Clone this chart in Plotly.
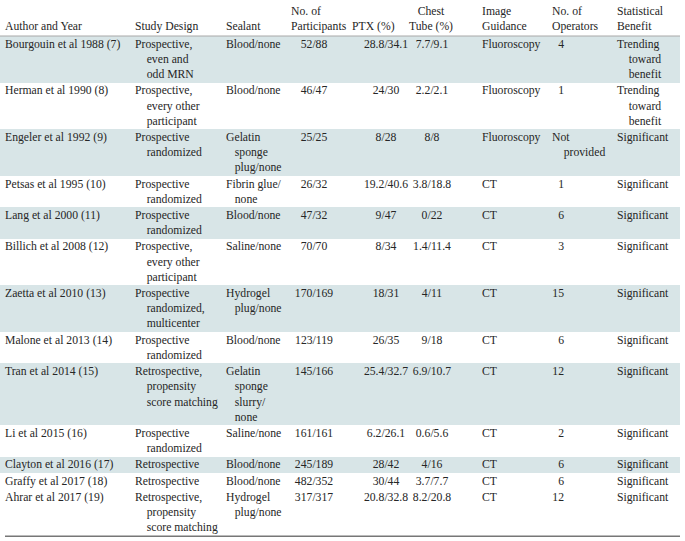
import plotly.graph_objects as go

# ---------------- data ----------------
headers = ["Author and Year", "Study Design", "Sealant", "No. of\nParticipants", "PTX (%)",
           "Chest\nTube (%)", "Image\nGuidance", "No. of\nOperators", "Statistical\nBenefit"]

authors = ["Bourgouin et al 1988 (7)", "Herman et al 1990 (8)", "Engeler et al 1992 (9)",
           "Petsas et al 1995 (10)", "Lang et al 2000 (11)", "Billich et al 2008 (12)",
           "Zaetta et al 2010 (13)", "Malone et al 2013 (14)", "Tran et al 2014 (15)",
           "Li et al 2015 (16)", "Clayton et al 2016 (17)", "Graffy et al 2017 (18)",
           "Ahrar et al 2017 (19)"]

study_design = ["Prospective,\neven and\nodd MRN", "Prospective,\nevery other\nparticipant",
                "Prospective\nrandomized", "Prospective\nrandomized", "Prospective\nrandomized",
                "Prospective,\nevery other\nparticipant", "Prospective\nrandomized,\nmulticenter",
                "Prospective\nrandomized", "Retrospective,\npropensity\nscore matching",
                "Prospective\nrandomized", "Retrospective", "Retrospective",
                "Retrospective,\npropensity\nscore matching"]

sealant = ["Blood/none", "Blood/none", "Gelatin\nsponge\nplug/none", "Fibrin glue/\nnone",
           "Blood/none", "Saline/none", "Hydrogel\nplug/none", "Blood/none",
           "Gelatin\nsponge\nslurry/\nnone", "Saline/none", "Blood/none", "Blood/none",
           "Hydrogel\nplug/none"]

participants = ["52/88", "46/47", "25/25", "26/32", "47/32", "70/70", "170/169", "123/119",
                "145/166", "161/161", "245/189", "482/352", "317/317"]

ptx = ["28.8/34.1", "24/30", "8/28", "19.2/40.6", "9/47", "8/34", "18/31", "26/35",
       "25.4/32.7", "6.2/26.1", "28/42", "30/44", "20.8/32.8"]

chest_tube = ["7.7/9.1", "2.2/2.1", "8/8", "3.8/18.8", "0/22", "1.4/11.4", "4/11", "9/18",
              "6.9/10.7", "0.6/5.6", "4/16", "3.7/7.7", "8.2/20.8"]

image_guidance = ["Fluoroscopy", "Fluoroscopy", "Fluoroscopy", "CT", "CT", "CT", "CT", "CT",
                  "CT", "CT", "CT", "CT", "CT"]

operators = ["4", "1", "Not\nprovided", "1", "6", "3", "15", "6", "12", "2", "6", "6", "12"]

benefit = ["Trending\ntoward\nbenefit", "Trending\ntoward\nbenefit", "Significant",
           "Significant", "Significant", "Significant", "Significant", "Significant",
           "Significant", "Significant", "Significant", "Significant", "Significant"]

# ---------------- style / layout ----------------
shaded = [1, 0, 1, 0, 1, 0, 1, 0, 1, 0, 1, 0, 0]
FILL = "#d8e5e7"
TXT = "#262626"
FONT = "Liberation Serif"
FS = 11.7
PITCH = 1.3 * FS
PAD = 1.0
TOP = 36.0
TABLE_W = 680
HEAD_BASE = 30.0
BODY_BASE = 11.7

columns = [authors, study_design, sealant, participants, ptx, chest_tube,
           image_guidance, operators, benefit]
# (x, anchor, hanging indent in nbsp)
col_style = [(5, "left", 0), (135, "left", 4), (226, "left", 3), (314, "center", 0),
             (386, "center", 0), (432, "center", 0), (482, "left", 0), (564, "right", 0),
             (617, "left", 4)]
head_style = [(5, "left"), (135, "left"), (226, "left"), (291, "left"), (352, "left"),
              (431, "center"), (482, "left"), (552, "left"), (617, "left")]

POS = {"left": "bottom right", "center": "bottom center", "right": "bottom left"}


def fmt(s, indent):
    parts = s.split("\n")
    return "<br>".join([parts[0]] + ["\u00a0" * indent + p for p in parts[1:]])


n_rows = len(authors)
nlines = [max(col[i].count("\n") + 1 for col in columns) for i in range(n_rows)]
heights = [n * PITCH + PAD for n in nlines]
tops = []
y = TOP
for h in heights:
    tops.append(y)
    y += h
bottom = y

fig = go.Figure()

# row fills
fig.add_trace(go.Bar(
    orientation="h",
    y=[t + h / 2 for t, h in zip(tops, heights)],
    x=[TABLE_W] * n_rows,
    base=0,
    width=heights,
    marker=dict(color=[FILL if s else "rgba(0,0,0,0)" for s in shaded], line=dict(width=0)),
    hoverinfo="skip",
    showlegend=False,
))

# rules
fig.add_trace(go.Scatter(x=[0, TABLE_W], y=[TOP, TOP], mode="lines",
                         line=dict(color="#a8a8a8", width=1), hoverinfo="skip", showlegend=False))
fig.add_trace(go.Scatter(x=[5, TABLE_W], y=[bottom + 0.5, bottom + 0.5], mode="lines",
                         line=dict(color="#777777", width=1.6), hoverinfo="skip", showlegend=False))

# headers
for h, (hx, anc) in zip(headers, head_style):
    n = h.count("\n") + 1
    fig.add_trace(go.Scatter(
        x=[hx], y=[HEAD_BASE - (n - 1) * PITCH - 0.75 * FS],
        mode="text", text=[fmt(h, 0)], textposition=POS[anc],
        textfont=dict(family=FONT, size=FS, color=TXT), cliponaxis=False,
        hoverinfo="skip", showlegend=False))

# body cells
for ci, (col, (cx, anc, ind)) in enumerate(zip(columns, col_style)):
    xs, poss = [], []
    for v in col:
        a, x0 = anc, cx
        if ci == 7 and not v.isdigit():
            a, x0 = "left", 552
        xs.append(x0)
        poss.append(POS[a])
    fig.add_trace(go.Scatter(
        x=xs, y=[t + BODY_BASE - 0.75 * FS for t in tops],
        mode="text", text=[fmt(v, ind if ci != 7 else 4) for v in col],
        textposition=poss, cliponaxis=False,
        textfont=dict(family=FONT, size=FS, color=TXT),
        hoverinfo="skip", showlegend=False))

fig.update_layout(
    width=685, height=541,
    margin=dict(l=0, r=0, t=0, b=0),
    paper_bgcolor="white", plot_bgcolor="white",
    barmode="overlay", bargap=0,
    xaxis=dict(range=[0, 685], visible=False, fixedrange=True),
    yaxis=dict(range=[541, 0], visible=False, fixedrange=True),
)

fig.write_html("out.html", config={"displayModeBar": False},
               post_script="document.body.style.margin='0';document.body.style.overflow='hidden';")
